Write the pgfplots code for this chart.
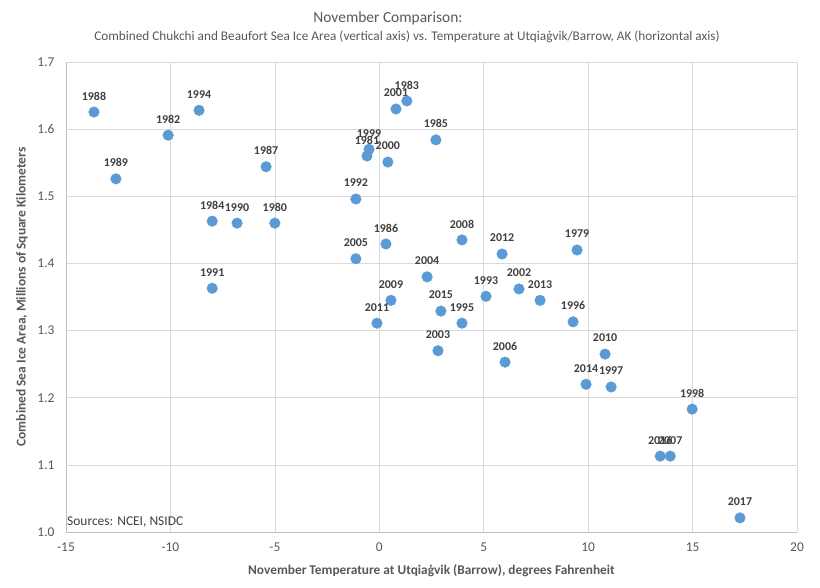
\documentclass[border=0pt]{standalone}
\usepackage{fontspec}
\setmainfont{Carlito}
\usepackage{pgfplots}
\usepackage{pgfplotstable}
\pgfplotsset{compat=1.18}
\definecolor{ptblue}{HTML}{5B9BD5}
\definecolor{txtgray}{HTML}{595959}
\definecolor{lblgray}{HTML}{404040}
\definecolor{gridgray}{HTML}{D9D9D9}
\definecolor{axgray}{HTML}{BFBFBF}
\pgfplotstableread{
x y label
-13.66 1.6255 1988
-8.63 1.628 1994
-10.11 1.591 1982
-12.61 1.526 1989
-5.42 1.544 1987
-8.00 1.463 1984
-6.81 1.460 1990
-5.00 1.460 1980
-8.00 1.363 1991
-1.12 1.496 1992
-0.49 1.570 1999
-0.59 1.560 1981
0.41 1.551 2000
0.80 1.630 2001
1.32 1.642 1983
2.71 1.584 1985
-1.12 1.407 2005
0.32 1.429 1986
3.96 1.435 2008
5.88 1.414 2012
9.47 1.420 1979
2.29 1.380 2004
0.56 1.345 2009
-0.11 1.311 2011
2.95 1.329 2015
3.96 1.311 1995
5.11 1.351 1993
6.69 1.362 2002
7.70 1.345 2013
2.81 1.270 2003
6.02 1.253 2006
9.28 1.313 1996
10.81 1.265 2010
9.90 1.220 2014
11.10 1.216 1997
14.98 1.183 1998
13.45 1.113 2016
13.93 1.113 2007
17.27 1.021 2017
}\datatable
\begin{document}
\begin{tikzpicture}
\path[use as bounding box, fill=white] (-66bp,-56bp) rectangle (754bp,532bp);
\begin{axis}[
  at={(0,0)}, anchor=south west,
  scale only axis, width=731bp, height=470bp,
  xmin=-15, xmax=20, ymin=1.0, ymax=1.7,
  xtick={-15,-10,-5,0,5,10,15,20},
  ytick={1.0,1.1,1.2,1.3,1.4,1.5,1.6,1.7},
  axis x line*=bottom, axis y line*=left,
  axis line style={draw=axgray, line width=0.8pt},
  major tick length=0pt,
  grid=major, major grid style={draw=gridgray, line width=0.7pt},
  /pgf/number format/assume math mode=true,
  ticklabel style={font=\fontsize{13.5}{15}\selectfont, text=txtgray},
  yticklabel style={/pgf/number format/.cd, fixed, fixed zerofill, precision=1, /tikz/.cd, xshift=-8bp},
  xticklabel style={yshift=-7bp},
  xlabel={November Temperature at Utqiaġvik (Barrow), degrees Fahrenheit},
  ylabel={Combined Sea Ice Area, Millions of Square Kilometers},
  xlabel style={at={(axis description cs:0.5,-0.083)}, anchor=center, font=\bfseries\fontsize{13.4}{15}\selectfont, text=txtgray},
  ylabel style={at={(axis description cs:-0.0602,0.5)}, anchor=center, font=\bfseries\fontsize{13.5}{15}\selectfont, text=txtgray},
  clip=false,
]
\addplot[only marks, mark=*, mark size=5.3bp, mark options={fill=ptblue, draw=ptblue},
  point meta=explicit symbolic,
  nodes near coords,
  nodes near coords style={anchor=center, yshift=16bp, font=\bfseries\fontsize{12}{14}\selectfont, text=lblgray, inner sep=0pt}]
  table[x=x, y=y, meta=label] {\datatable};
\end{axis}
\node[font=\fontsize{15.5}{18}\selectfont, text=txtgray] at (322bp,514bp) {November Comparison:};
\node[font=\fontsize{13.3}{15}\selectfont, text=txtgray] at (341bp,495bp) {Combined Chukchi and Beaufort Sea Ice Area (vertical axis) vs. Temperature at Utqiaġvik/Barrow, AK (horizontal axis)};
\node[font=\fontsize{13.5}{15}\selectfont, text=lblgray, anchor=west, inner sep=0pt] at (1bp,10bp) {Sources: NCEI, NSIDC};
\end{tikzpicture}
\end{document}
